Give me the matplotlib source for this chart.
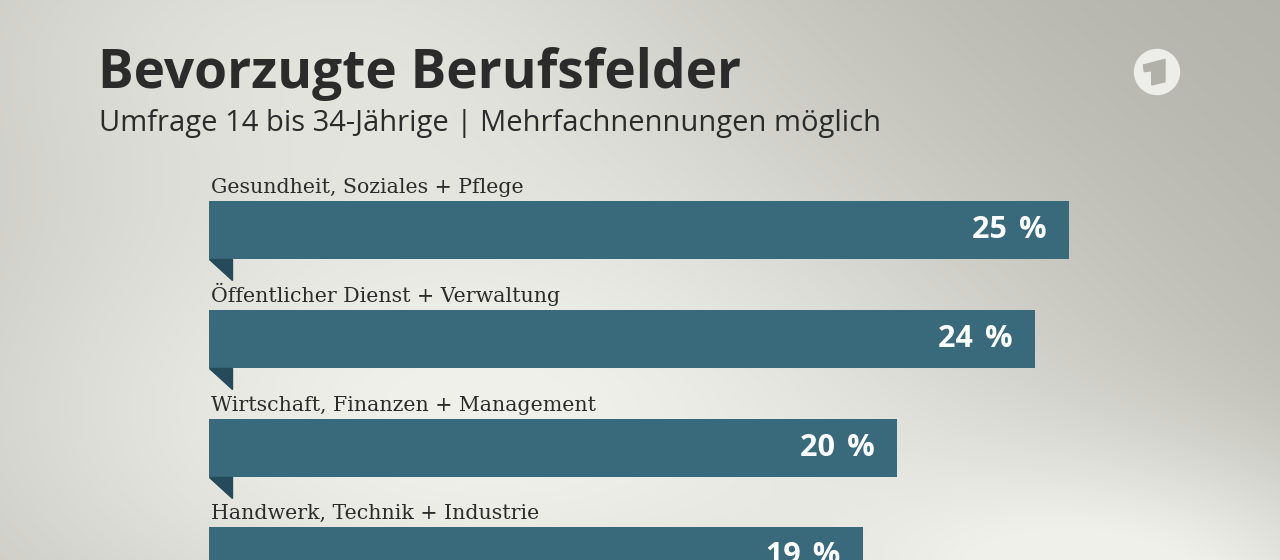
import numpy as np
import matplotlib.pyplot as plt
from matplotlib.patches import Polygon, Circle

# Daten
kategorien = [
    "Gesundheit, Soziales + Pflege",
    "Öffentlicher Dienst + Verwaltung",
    "Wirtschaft, Finanzen + Management",
    "Handwerk, Technik + Industrie",
]
werte = [25, 24, 20, 19]
titel = "Bevorzugte Berufsfelder"
untertitel = "Umfrage 14 bis 34-Jährige | Mehrfachnennungen möglich"

BALKEN = "#386a7b"
FALTE = "#254a59"
TEXT = "#2b2b2b"

W, H = 1280, 560
fig = plt.figure(figsize=(W / 100, H / 100), dpi=100)

# Hintergrund mit Verlauf
bg = fig.add_axes([0, 0, 1, 1])
bg.set_xlim(0, W)
bg.set_ylim(H, 0)
bg.axis("off")
yy, xx = np.mgrid[0:H, 0:W]
hell = np.exp(-(((xx - 480) / 650) ** 2 + ((yy - 420) / 330) ** 2))
hell2 = 0.8 * np.exp(-(((xx - 1150) / 300) ** 2 + ((yy - 600) / 150) ** 2))
hell3 = 0.55 * np.exp(-(((xx - 300) / 500) ** 2 + ((yy - 0) / 200) ** 2))
t = np.clip(hell + hell2 + hell3, 0, 1)
dunkel = np.array([0.69, 0.69, 0.66])
licht = np.array([0.945, 0.945, 0.925])
img = dunkel + t[..., None] * (licht - dunkel)
bg.imshow(img, extent=(0, W, H, 0), aspect="auto", zorder=0)

# Titel
bg.text(98, 88, titel, fontsize=38.3, fontweight="bold", color=TEXT,
        family="Open Sans", va="baseline", ha="left")
bg.text(99, 131, untertitel, fontsize=21, color=TEXT,
        family="Open Sans", va="baseline", ha="left")

# Logo
bg.add_patch(Circle((1157, 72), 22.5, color="#ededea", zorder=2))
bg.add_patch(Polygon([(1143.5, 65), (1165, 59.3), (1165, 81.7), (1151.7, 85),
                      (1151.7, 70.7), (1144.3, 71.7)], closed=True,
                     color="#b1b1aa", zorder=3))

# Balken
abstand = 108.7
mitte0 = 230.3
ax = fig.add_axes([209 / W, 0, 860 / W, 1])
ax.set_xlim(0, 25)
ax.set_ylim((H - mitte0) / abstand, -mitte0 / abstand)
ax.axis("off")
ax.patch.set_alpha(0)

hoehe = 58 / abstand
pos = np.arange(len(werte))
ax.barh(pos, werte, height=hoehe, color=BALKEN, clip_on=False)

px_x = 25 / 860
for i, (k, v) in enumerate(zip(kategorien, werte)):
    unten = i + hoehe / 2
    oben = i - hoehe / 2
    ax.add_patch(Polygon([(0, unten), (23 * px_x, unten),
                          (23 * px_x, unten + 21 / abstand)],
                         closed=True, color=FALTE, clip_on=False))
    ax.text(0.05, oben - 8 / abstand, k, fontsize=14.8, color=TEXT,
            family="DejaVu Serif", va="baseline", ha="left")
    ax.text(v - 22 * px_x, i, f"{v}\u2009\u2009%", fontsize=22, fontweight="bold",
            color="white", family="Open Sans", va="center", ha="right")

fig.savefig("out.png", dpi=100)
